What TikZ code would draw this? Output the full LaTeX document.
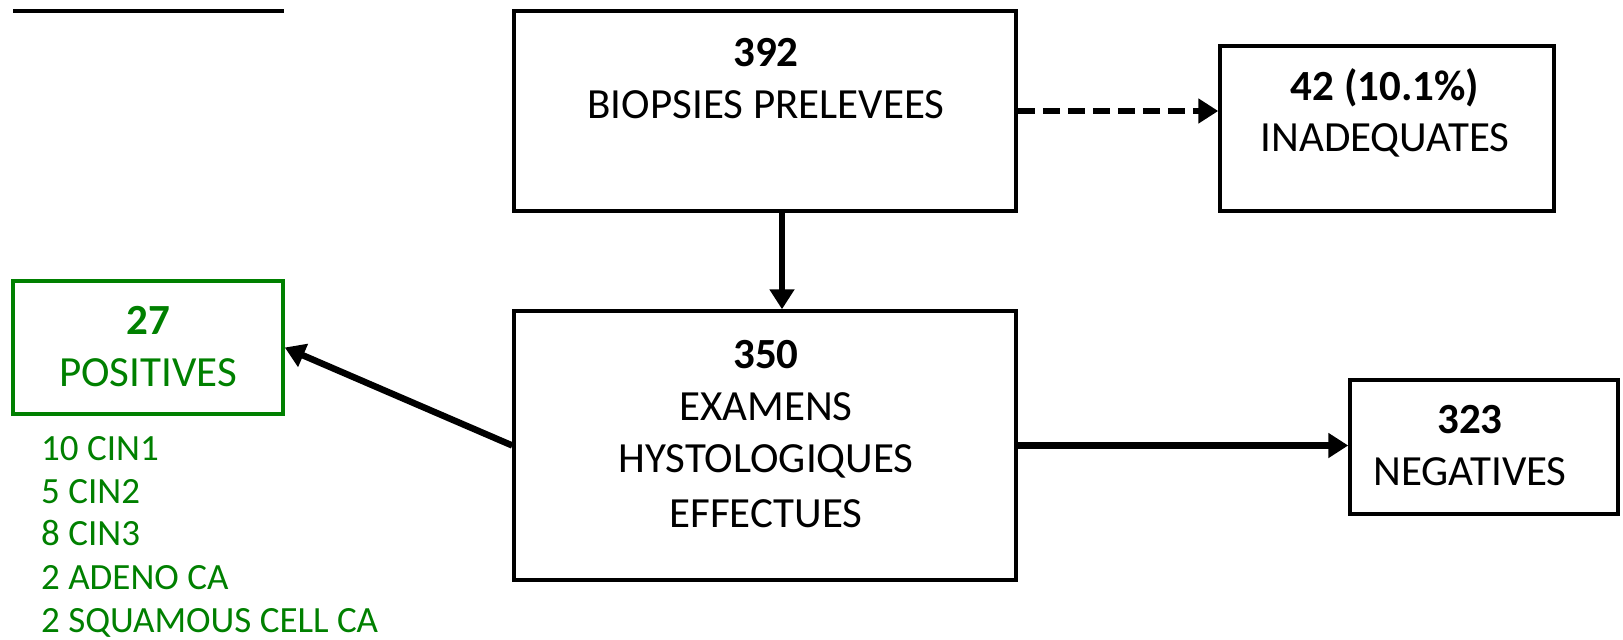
\documentclass[tikz,border=0pt]{standalone}
\usepackage{fontspec}
\setmainfont{Carlito}
\usetikzlibrary{arrows.meta}
\definecolor{posgreen}{HTML}{008000}
\begin{document}
\begin{tikzpicture}[x=1pt,y=-1pt,
  box/.style={draw=black,line width=3.5pt,minimum width=#1,inner sep=0pt},
  txt/.style={anchor=base,inner sep=0pt,font=\fontsize{43}{50}\selectfont},
  num/.style={anchor=base,inner sep=0pt,font=\fontsize{43}{50}\selectfont\bfseries},
  lst/.style={anchor=base west,inner sep=0pt,text=posgreen,font=\fontsize{37}{44}\selectfont},
  arr/.style={line width=6.5pt,-{Triangle[length=20pt,width=24pt]}}
]
\useasboundingbox (0,0) rectangle (1623,640);
% top-left rule
\coordinate (r1) at (13,11);
\coordinate (r2) at (284,11);
\draw[line width=3.5pt] (r1) -- (r2);
% boxes
\node[box=502pt,minimum height=200pt] (b1) at (765,111) {};
\node[box=334pt,minimum height=165pt] (b2) at (1387,128.5) {};
\node[box=502pt,minimum height=269pt] (b3) at (765,445.5) {};
\node[box=270pt,minimum height=133pt,draw=posgreen] (b4) at (148,347.5) {};
\node[box=268pt,minimum height=134pt] (b5) at (1484,447) {};
% texts
\node[num] (t1a) at (766,66) {392};
\node[txt] (t1b) at (766,118) {BIOPSIES PRELEVEES};
\node[num] (t2a) at (1385,100) {42 (10.1\%)};
\node[txt] (t2b) at (1385,151) {INADEQUATES};
\node[num] (t3a) at (766,368) {350};
\node[txt] (t3b) at (766,420) {EXAMENS};
\node[txt] (t3c) at (766,472) {HYSTOLOGIQUES};
\node[txt] (t3d) at (766,527) {EFFECTUES};
\node[num,text=posgreen] (t4a) at (148,334) {27};
\node[txt,text=posgreen] (t4b) at (148,386) {POSITIVES};
\node[num] (t5a) at (1470,433) {323};
\node[txt] (t5b) at (1470,485) {NEGATIVES};
% list
\node[lst] (l1) at (41,460) {10 CIN1};
\node[lst] (l2) at (41,503) {5 CIN2};
\node[lst] (l3) at (41,545) {8 CIN3};
\node[lst] (l4) at (41,589) {2 ADENO CA};
\node[lst] (l5) at (41,632) {2 SQUAMOUS CELL CA};
% connectors
\draw[arr,dash pattern=on 17pt off 8pt] (b1.east) -- (b1.east -| b2.west);
\draw[arr] ([xshift=17pt]b1.south) -- ([xshift=17pt]b1.south |- b3.north);
\draw[arr] (b3.east) -- (b3.east -| b5.west);
\draw[arr] (b3.west) -- (b4.east);
\end{tikzpicture}
\end{document}
